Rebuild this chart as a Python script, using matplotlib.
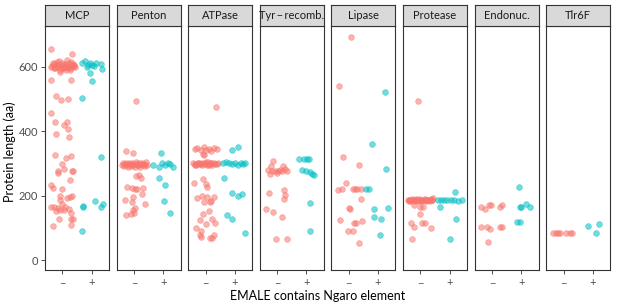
import matplotlib
matplotlib.use("Agg")
import matplotlib.pyplot as plt

plt.rcParams['font.family'] = ['Lato', 'DejaVu Sans']

panels = ['MCP', 'Penton', 'ATPase', 'Tyr\u2009\u2212\u2009recomb.', 'Lipase', 'Protease', 'Endonuc.', 'Tlr6F']
groups = ['\u2212', '+']

# protein lengths (aa) for EMALEs without (-) / with (+) Ngaro element
mcp_neg = [655, 603, 610, 598, 615, 605, 590, 600, 612, 595, 608, 620, 600, 605, 598, 610, 603,
           600, 595, 607, 585, 605, 590, 612, 604, 600, 600, 618, 600, 596, 615, 607, 612, 640,
           603, 598, 590, 560, 560, 508, 497, 500, 458, 429, 429, 421, 408, 392, 383, 326, 323,
           316, 298, 282, 276, 278, 270, 276, 249, 232, 223, 220, 200, 200, 195, 187, 192, 166,
           166, 161, 174, 155, 158, 155, 166, 153, 145, 127, 127, 127, 106, 110]
mcp_pos = [612, 617, 606, 611, 606, 611, 609, 594, 601, 604, 580, 556, 503, 319, 184, 168, 165,
           164, 174, 90]
penton_neg = [495, 340, 332, 296, 300, 292, 298, 302, 295, 290, 300, 297, 293, 301, 299, 295,
              290, 298, 303, 296, 294, 300, 288, 297, 301, 295, 299, 292, 305, 296, 265, 261,
              254, 228, 223, 220, 222, 223, 204, 187, 195, 179, 173, 163, 155, 140, 143, 147]
penton_pos = [332, 296, 290, 300, 295, 302, 298, 288, 254, 233, 184, 147]
atpase_neg = [475, 345, 348, 343, 350, 342, 346, 340, 348, 345, 326, 330, 300, 298, 295, 302,
              297, 300, 296, 301, 299, 295, 303, 298, 300, 296, 302, 297, 299, 301, 295, 300,
              298, 303, 296, 300, 238, 251, 235, 226, 194, 199, 197, 197, 181, 181, 183, 152,
              142, 124, 112, 127, 116, 98, 91, 78, 70, 67, 67, 78]
atpase_pos = [342, 350, 300, 305, 302, 298, 300, 296, 301, 298, 300, 255, 207, 199, 204, 140,
              127, 83]
tyr_neg = [309, 293, 280, 267, 277, 275, 278, 280, 277, 282, 276, 293, 270, 209, 218, 202, 190,
           158, 148, 135, 66, 66]
tyr_pos = [313, 313, 313, 313, 280, 275, 272, 268, 265, 176, 91]
lipase_neg = [694, 541, 319, 294, 238, 216, 222, 222, 222, 222, 222, 189, 163, 160, 125, 115,
              115, 122, 91, 91, 52]
lipase_pos = [522, 359, 284, 222, 222, 159, 163, 134, 127, 78]
protease_neg = [493, 186, 184, 188, 182, 190, 185, 187, 183, 189, 186, 184, 191, 185, 188, 183,
                187, 186, 190, 184, 188, 185, 187, 183, 189, 186, 192, 185, 187, 184, 188, 186,
                171, 166, 164, 142, 114, 104, 114, 114, 98, 64]
protease_pos = [187, 185, 188, 186, 185, 187, 184, 186, 210, 164, 127, 64]
endonuc_neg = [166, 158, 171, 171, 166, 171, 104, 104, 96, 104, 104, 55]
endonuc_pos = [226, 166, 166, 173, 166, 118, 118]
tlr6f_neg = [83, 83, 83, 83, 83, 83, 83]
tlr6f_pos = [106, 83, 112]

# horizontal jitter (fraction of a category step)
mcp_neg_jit = [-0.39, -0.35, -0.3, -0.25, -0.2, -0.15, -0.1, -0.05, 0.0, 0.05, 0.1, 0.15, 0.2,
               0.25, 0.3, 0.35, 0.4, -0.38, -0.28, -0.18, -0.08, 0.02, 0.12, 0.22, 0.32, 0.42,
               -0.22, -0.12, 0.08, 0.18, 0.28, 0.38, -0.32, 0.32, 0.1, -0.02, 0.25, -0.39, 0.31,
               -0.21, -0.06, 0.18, -0.38, -0.24, 0.14, 0.04, 0.2, -0.22, 0.24, -0.24, 0.28, 0.13,
               0.0, 0.05, -0.14, 0.33, -0.14, 0.37, 0.27, -0.39, -0.33, 0.0, -0.09, 0.34, 0.25,
               -0.09, 0.16, -0.4, -0.3, -0.16, -0.03, 0.05, 0.24, -0.09, 0.1, -0.21, 0.31, -0.11,
               0.28, 0.36, -0.33, 0.31]
mcp_pos_jit = [-0.32, -0.21, -0.13, -0.06, 0.02, 0.16, 0.31, 0.36, -0.17, 0.08, -0.06, 0.0,
               -0.32, 0.34, 0.11, -0.31, -0.3, 0.33, 0.41, -0.32]
penton_neg_jit = [0.07, -0.28, -0.02, -0.42, -0.39, -0.35, -0.32, -0.28, -0.25, -0.22, -0.18,
                  -0.15, -0.12, -0.08, -0.05, -0.02, 0.02, 0.05, 0.08, 0.12, 0.15, 0.18, 0.22,
                  0.25, 0.28, 0.32, 0.35, 0.38, 0.42, 0.44, 0.16, 0.07, 0.25, -0.25, -0.08, 0.03,
                  0.1, 0.3, 0.29, -0.31, -0.04, -0.08, 0.37, 0.03, -0.02, -0.28, -0.12, 0.0]
penton_pos_jit = [-0.08, -0.35, -0.15, -0.05, 0.05, 0.15, 0.25, 0.35, -0.15, 0.07, 0.02, 0.24]
atpase_neg_jit = [0.34, -0.38, -0.3, -0.15, -0.07, 0.02, 0.12, 0.2, 0.3, 0.38, -0.05, -0.1,
                  -0.42, -0.37, -0.32, -0.27, -0.22, -0.17, -0.12, -0.07, -0.02, 0.03, 0.08,
                  0.13, 0.18, 0.23, 0.28, 0.33, 0.38, 0.42, -0.35, -0.25, -0.15, 0.0, 0.1, 0.2,
                  -0.41, -0.09, 0.0, 0.04, -0.3, -0.12, 0.06, 0.28, 0.14, -0.07, 0.2, 0.11, -0.09,
                  -0.2, 0.0, 0.23, 0.32, -0.34, -0.15, -0.18, -0.16, 0.14, 0.23, 0.27]
atpase_pos_jit = [-0.08, 0.12, -0.4, -0.3, -0.2, -0.1, 0.0, 0.1, 0.2, 0.27, 0.34, -0.38, -0.11,
                  0.12, 0.26, -0.26, -0.08, 0.34]
tyr_neg_jit = [-0.13, -0.22, -0.33, -0.25, -0.18, -0.08, 0.02, 0.1, 0.18, 0.26, 0.33, 0.2,
               -0.02, -0.28, 0.24, 0.27, 0.24, -0.38, -0.16, 0.17, -0.04, 0.33]
tyr_pos_jit = [-0.26, -0.08, 0.03, 0.09, -0.14, 0.0, 0.12, 0.2, 0.26, 0.11, 0.11]
lipase_neg_jit = [0.07, -0.33, -0.21, 0.34, -0.09, -0.39, -0.23, 0.13, 0.2, 0.28, 0.41, 0.41,
                  0.0, 0.03, -0.3, 0.18, 0.24, 0.44, -0.02, 0.14, 0.34]
lipase_pos_jit = [0.25, -0.2, 0.29, -0.4, -0.32, -0.15, 0.33, -0.15, 0.11, 0.08]
protease_neg_jit = [-0.09, -0.42, -0.38, -0.35, -0.32, -0.28, -0.25, -0.22, -0.18, -0.15, -0.12,
                    -0.08, -0.05, -0.02, 0.02, 0.05, 0.08, 0.12, 0.15, 0.18, 0.22, 0.25, 0.28,
                    0.32, 0.35, 0.38, 0.42, -0.4, -0.2, 0.0, 0.2, 0.4, -0.21, -0.03, 0.09, 0.0,
                    -0.32, -0.23, 0.06, 0.17, 0.37, -0.29]
protease_pos_jit = [-0.4, -0.3, -0.18, -0.08, 0.05, 0.15, 0.3, 0.42, 0.2, -0.32, 0.23, 0.02]
endonuc_neg_jit = [-0.38, -0.23, -0.12, -0.05, 0.26, 0.34, -0.38, -0.17, -0.06, 0.26, 0.34,
                   -0.13]
endonuc_pos_jit = [-0.08, -0.05, -0.02, 0.18, 0.3, -0.15, -0.05]
tlr6f_neg_jit = [-0.38, -0.27, -0.19, -0.12, 0.08, 0.22, 0.28]
tlr6f_pos_jit = [-0.16, 0.1, 0.23]

neg_values = [mcp_neg, penton_neg, atpase_neg, tyr_neg, lipase_neg, protease_neg, endonuc_neg, tlr6f_neg]
pos_values = [mcp_pos, penton_pos, atpase_pos, tyr_pos, lipase_pos, protease_pos, endonuc_pos, tlr6f_pos]
neg_jitter = [mcp_neg_jit, penton_neg_jit, atpase_neg_jit, tyr_neg_jit, lipase_neg_jit,
              protease_neg_jit, endonuc_neg_jit, tlr6f_neg_jit]
pos_jitter = [mcp_pos_jit, penton_pos_jit, atpase_pos_jit, tyr_pos_jit, lipase_pos_jit,
              protease_pos_jit, endonuc_pos_jit, tlr6f_pos_jit]

red, teal = '#F8766D', '#00BFC4'
edge = '#333333'

W, H = 617, 308
fig = plt.figure(figsize=(W / 100, H / 100), dpi=100)

left0, step, pw = 45, 71.6, 64
top, bottom, strip_top = 26, 270, 5

for i, name in enumerate(panels):
    x0 = left0 + i * step
    ax = fig.add_axes([x0 / W, (H - bottom) / H, pw / W, (bottom - top) / H])
    for vals, jit, pos, col in [(neg_values[i], neg_jitter[i], 1, red),
                                (pos_values[i], pos_jitter[i], 2, teal)]:
        xs = [pos + j for j in jit[:len(vals)]]
        ax.scatter(xs, vals[:len(xs)], s=17, color=col, alpha=0.55, edgecolors=col,
                   linewidths=0.5, zorder=3)
    ax.set_xlim(0.4, 2.6)
    ax.set_ylim(-31, 727)
    ax.set_xticks([1, 2])
    ax.set_xticklabels(groups)
    ax.set_yticks([0, 200, 400, 600])
    ax.tick_params(length=3, width=0.6, color=edge, labelsize=8, labelcolor='#4D4D4D', pad=2)
    if i > 0:
        ax.tick_params(axis='y', left=False, labelleft=False)
    for sp in ax.spines.values():
        sp.set_color(edge)
        sp.set_linewidth(0.8)

    sax = fig.add_axes([x0 / W, (H - top) / H, pw / W, (top - strip_top) / H])
    sax.set_facecolor('#D9D9D9')
    sax.set_xticks([])
    sax.set_yticks([])
    for sp in sax.spines.values():
        sp.set_color(edge)
        sp.set_linewidth(0.8)
    sax.text(0.5, 0.5, name, ha='center', va='center', fontsize=8, color='#1A1A1A',
             transform=sax.transAxes)

fig.text(10 / W, (H - 152) / H, 'Protein length (aa)', rotation=90, ha='center', va='center',
         fontsize=9, color='black')
fig.text(318 / W, (H - 296) / H, 'EMALE contains Ngaro element', ha='center', va='center',
         fontsize=9, color='black')

fig.savefig('out.png', dpi=100)
